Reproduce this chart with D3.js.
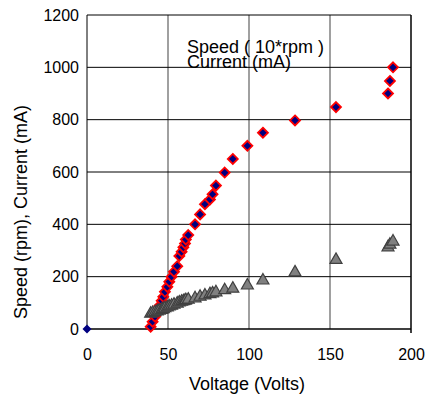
<!DOCTYPE html>
<html>
<head>
<meta charset="utf-8">
<script src="https://cdn.jsdelivr.net/npm/d3@7"></script>
<style>
  body { margin: 0; background: #fff; }
  svg text { font-family: "Liberation Sans", Arial, sans-serif; fill: #000; }
</style>
</head>
<body>
<svg id="chart" width="427" height="394"></svg>
<script>
// values
const voltage = [39.3, 40.5, 42, 43.4, 44.6, 46.1, 47.1, 48.1, 49.6, 50.8, 52.2, 53.7, 55.7, 57, 58.4, 59.5,
  60.5, 61, 62.5, 66.7, 69.8, 72.8, 75.9, 77.5, 79.6, 85, 90, 99, 108.6, 128.4, 153.7, 185.8, 187, 188.9];
const speed = [9, 28, 47, 66, 88, 108, 123, 142, 161, 181, 200, 219, 240, 279, 295, 312,
  327, 342, 359, 400, 438, 477, 495, 515, 548, 598, 650, 700, 750, 797, 848, 900, 948, 1000];
const current = [64, 67, 70, 73, 76, 79, 82, 85, 88, 92, 95, 99, 103, 107, 110, 112,
  114, 116, 118, 123, 129, 134, 139, 142, 146, 154, 160, 172, 191, 222, 270, 318, 328, 340];
const origin = [[0, 0]];
const xTicks = [0, 50, 100, 150, 200];
const yTicks = [0, 200, 400, 600, 800, 1000, 1200];
const legendLines = ['Speed ( 10*rpm )', 'Current (mA)'];

const svg = d3.select('#chart');
const margin = { top: 15, right: 16, bottom: 65, left: 87 };
const width = 427, height = 394;

const x = d3.scaleLinear().domain([0, 200]).range([margin.left, width - margin.right]);
const y = d3.scaleLinear().domain([0, 1200]).range([height - margin.bottom, margin.top]);

// grid
svg.append('g').selectAll('line')
  .data(xTicks.filter(d => d > 0 && d < 200))
  .join('line')
    .attr('x1', d => x(d)).attr('x2', d => x(d))
    .attr('y1', y(0)).attr('y2', y(1200))
    .attr('stroke', '#808080').attr('stroke-width', 1.5);

svg.append('g').selectAll('line')
  .data(yTicks.filter(d => d > 0))
  .join('line')
    .attr('x1', x(0)).attr('x2', x(200))
    .attr('y1', d => y(d)).attr('y2', d => y(d))
    .attr('stroke', '#000').attr('stroke-width', 1);

// frame: left axis, bottom axis, right edge
svg.append('line')
  .attr('x1', x(0)).attr('x2', x(0)).attr('y1', y(0)).attr('y2', y(1200))
  .attr('stroke', '#000');
svg.append('line')
  .attr('x1', x(0)).attr('x2', x(200)).attr('y1', y(0)).attr('y2', y(0))
  .attr('stroke', '#000').attr('stroke-width', 1.5);
svg.append('line')
  .attr('x1', x(200)).attr('x2', x(200)).attr('y1', y(1200)).attr('y2', y(0) + 4)
  .attr('stroke', '#000').attr('stroke-width', 1.5);

// axes (labels only)
const xAxis = svg.append('g')
  .attr('transform', `translate(0,${y(0)})`)
  .call(d3.axisBottom(x).tickValues(xTicks).tickFormat(d3.format('d')).tickSize(0).tickPadding(20));
xAxis.select('.domain').remove();
xAxis.selectAll('text').attr('font-size', 16).attr('fill', '#000');

const yAxis = svg.append('g')
  .attr('transform', `translate(${x(0)},0)`)
  .call(d3.axisLeft(y).tickValues(yTicks).tickFormat(d3.format('d')).tickSize(0).tickPadding(8));
yAxis.select('.domain').remove();
yAxis.selectAll('text').attr('font-size', 16).attr('fill', '#000');

svg.append('text')
  .attr('x', 247).attr('y', 390)
  .attr('text-anchor', 'middle').attr('font-size', 18)
  .text('Voltage (Volts)');

svg.append('text')
  .attr('transform', `translate(27,${212}) rotate(-90)`)
  .attr('text-anchor', 'middle').attr('font-size', 18)
  .text('Speed (rpm), Current (mA)');

// markers
const diamond = r => `M0,${-r}L${r},0L0,${r}L${-r},0Z`;
const triangle = 'M0,-5.5L6,5L-6,5Z';

svg.append('g').selectAll('path')
  .data(origin)
  .join('path')
    .attr('d', diamond(4.5))
    .attr('transform', d => `translate(${x(d[0])},${y(d[1])})`)
    .attr('fill', '#000080');

svg.append('g').selectAll('path')
  .data(d3.zip(voltage, speed))
  .join('path')
    .attr('d', diamond(5))
    .attr('transform', d => `translate(${x(d[0])},${y(d[1])})`)
    .attr('fill', '#000080')
    .attr('stroke', '#ff0000').attr('stroke-width', 1.8);

svg.append('g').selectAll('path')
  .data(d3.zip(voltage, current))
  .join('path')
    .attr('d', triangle)
    .attr('transform', d => `translate(${x(d[0])},${y(d[1])})`)
    .attr('fill', '#808080')
    .attr('stroke', '#404040').attr('stroke-width', 1.2);

// legend text (no symbols)
svg.append('g').selectAll('text')
  .data(legendLines)
  .join('text')
    .attr('x', 187).attr('y', (d, i) => 53 + i * 15)
    .attr('font-size', 18)
    .text(d => d);
</script>
</body>
</html>
